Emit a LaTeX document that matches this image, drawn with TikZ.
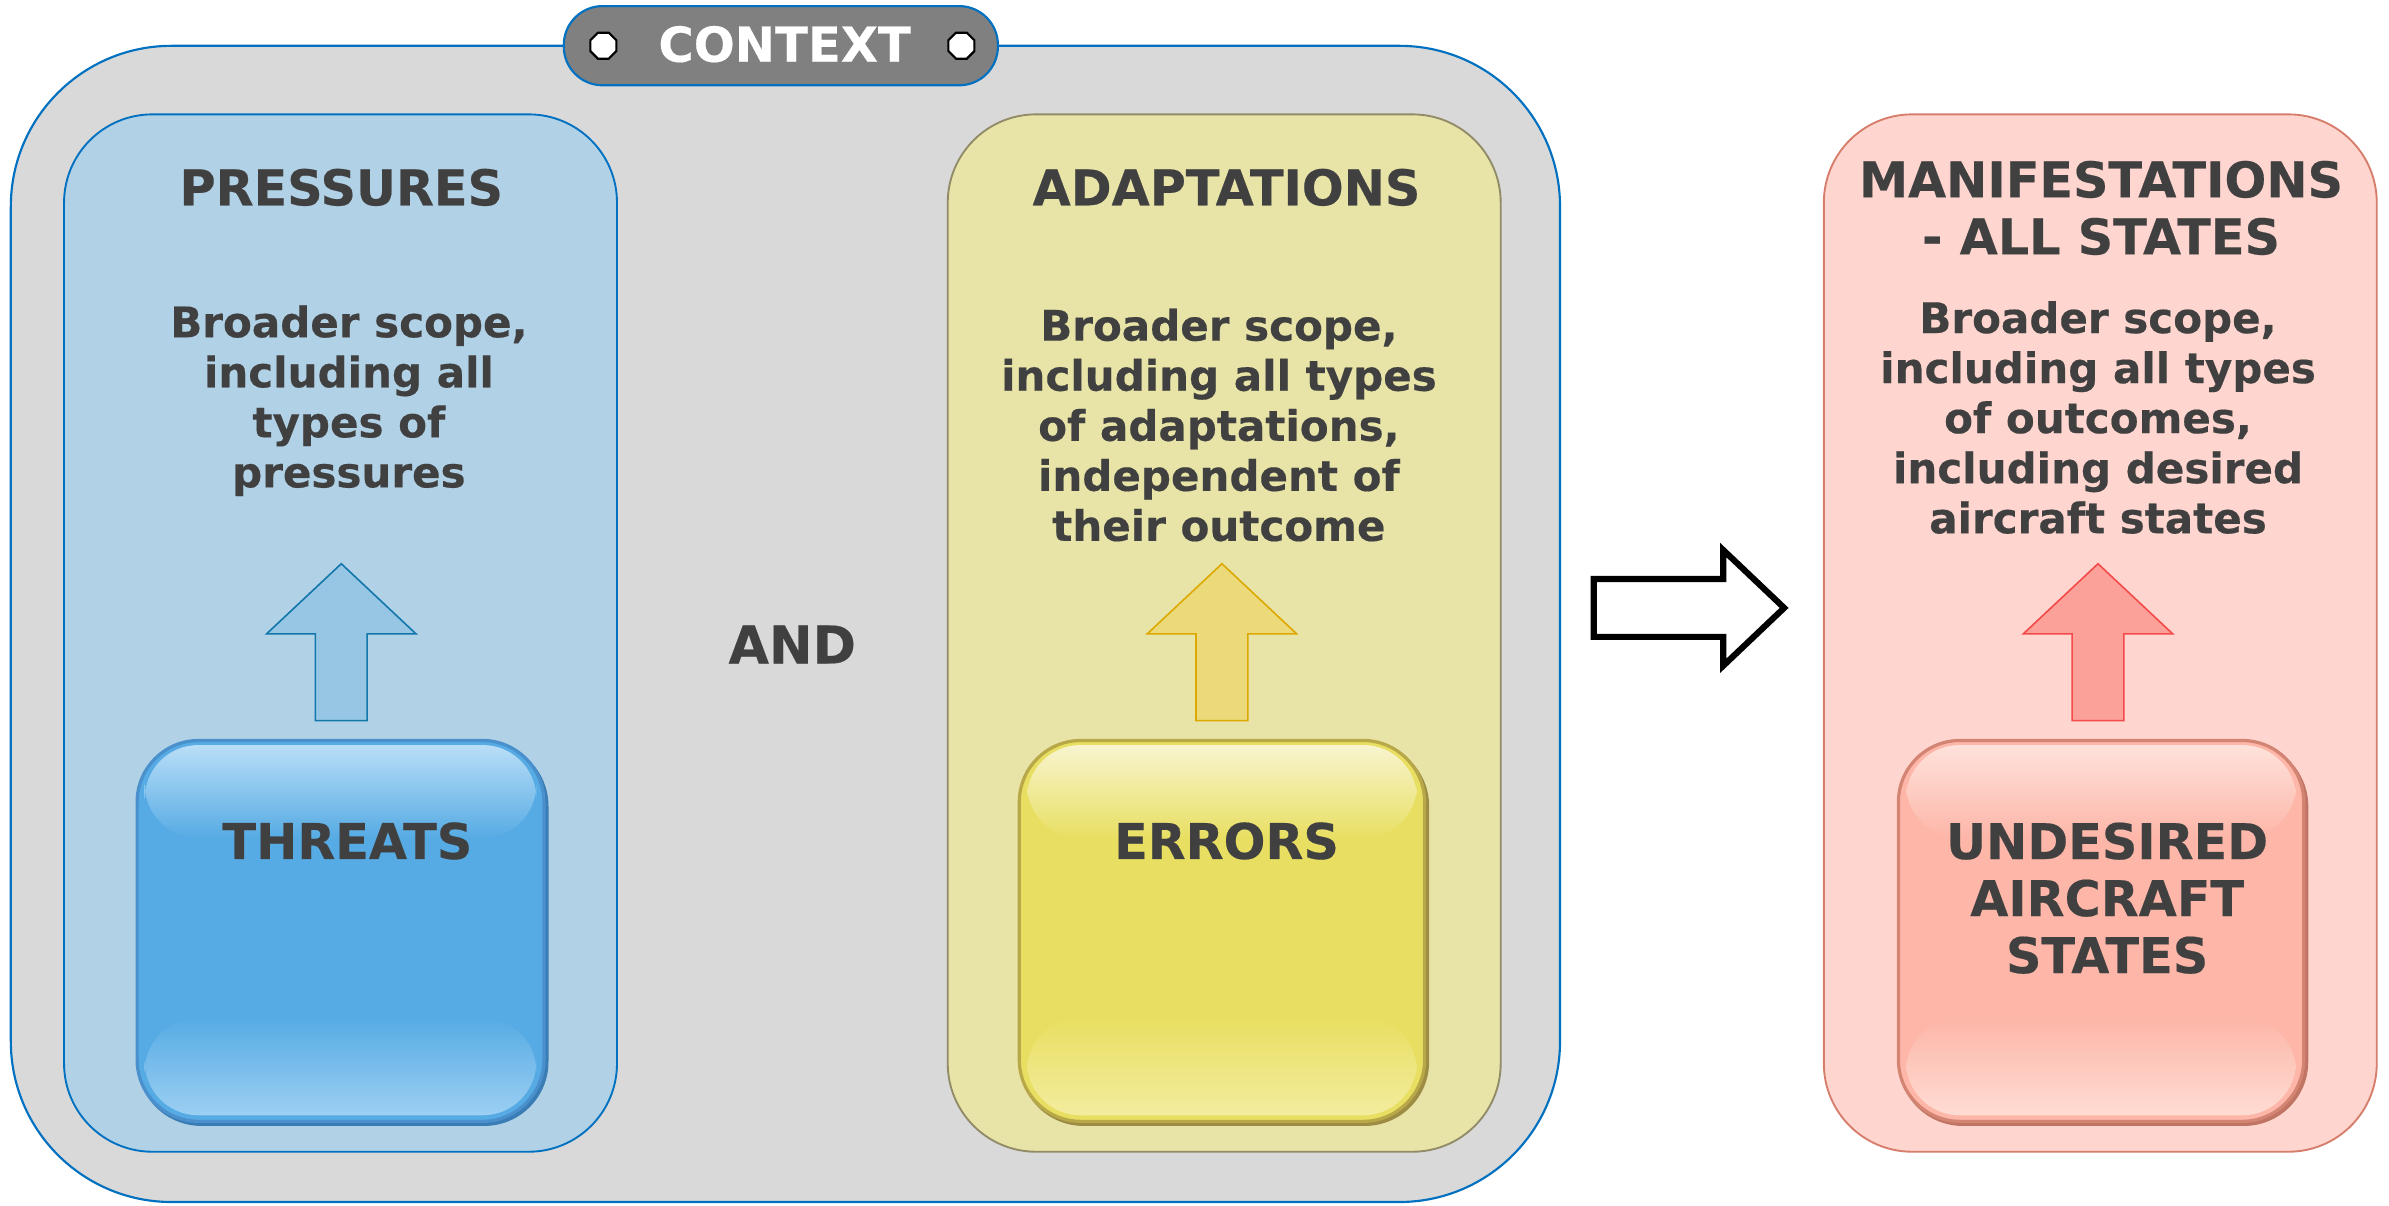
\documentclass[tikz,border=0pt]{standalone}
\usepackage{fontspec}
\setmainfont{DejaVu Sans}[BoldFeatures={FakeBold=0.35}]
\usetikzlibrary{shapes.geometric}
\definecolor{txt}{HTML}{404040}
\definecolor{ctxgrey}{HTML}{D9D9D9}
\definecolor{ctxblue}{HTML}{0070C0}
\definecolor{labgrey}{HTML}{808080}
\definecolor{prfill}{HTML}{B1D1E6}
\definecolor{adfill}{HTML}{E8E4A8}
\definecolor{addraw}{HTML}{918B67}
\definecolor{mnfill}{HTML}{FED6CF}
\definecolor{mndraw}{HTML}{D67D6B}
\definecolor{arbF}{HTML}{97C6E4}
\definecolor{arbD}{HTML}{1277AA}
\definecolor{aryF}{HTML}{ECD97A}
\definecolor{aryD}{HTML}{DDA800}
\definecolor{arrF}{HTML}{FCA19A}
\definecolor{arrD}{HTML}{F34A4A}
\definecolor{thB}{HTML}{56ABE4}
\definecolor{thT}{HTML}{B9DEF7}
\definecolor{thL}{HTML}{9CCFF3}
\definecolor{thE}{HTML}{4A90CC}
\definecolor{thK}{HTML}{3A7CB4}
\definecolor{erB}{HTML}{E8DF62}
\definecolor{erT}{HTML}{F8F4CF}
\definecolor{erL}{HTML}{F3EC9E}
\definecolor{erE}{HTML}{B8A848}
\definecolor{erK}{HTML}{9C8C44}
\definecolor{unB}{HTML}{FDB6A8}
\definecolor{unT}{HTML}{FEE2DB}
\definecolor{unL}{HTML}{FEDCD3}
\definecolor{unE}{HTML}{D38472}
\definecolor{unK}{HTML}{C07464}
% #1 x1, #2 y1, #3 x2, #4 y2, #5 base, #6 top light, #7 bottom light, #8 edge, #9 dark edge
\newcommand\glossbtn[9]{%
  \fill[#9, rounded corners=24pt] (#1,#2+1) rectangle (#3+3,#4+3);
  \filldraw[fill=#5, draw=#8, line width=1.2pt, rounded corners=23pt] (#1,#2) rectangle (#3,#4);
  \shade[top color=#6, bottom color=#5, rounded corners=20pt] (#1+5,#2+3) rectangle (#3-5,#2+64);
  \shade[top color=#5, bottom color=#7, rounded corners=20pt] (#1+5,#4-68) rectangle (#3-5,#4-4);
}
\tikzset{
  panel/.style={rectangle, line width=0.7pt, rounded corners=33pt, minimum width=7.26cm, minimum height=13.62cm, inner sep=0pt},
  head/.style={font=\fontsize{18.4}{21.3}\selectfont\bfseries, text=txt, align=center, inner sep=0pt},
  body/.style={font=\fontsize{15.7}{18.7}\selectfont\bfseries, text=txt, align=center, inner sep=0pt},
  uparrow/.style={line width=0.6pt, line join=miter},
  marker/.style={regular polygon, regular polygon sides=8, minimum size=0.37cm, inner sep=0pt, fill=white, draw=black, line width=0.8pt}
}
\begin{document}
\begin{tikzpicture}[x=0.02cm, y=-0.02cm]
\useasboundingbox (0,0) rectangle (1568,790.9);
% context container
\node[rectangle, draw=ctxblue, fill=ctxgrey, line width=0.8pt, rounded corners=60pt,
      minimum width=20.34cm, minimum height=15.18cm, inner sep=0pt] (ctx) at (515.5,409.5) {};
% panels
\node[panel, draw=ctxblue, fill=prfill] (prp) at (223.5,415.5) {};
\node[panel, draw=addraw, fill=adfill] (adp) at (803.5,415.5) {};
\node[panel, draw=mndraw, fill=mnfill] (mnp) at (1378.5,415.5) {};
% context label
\node[rectangle, draw=ctxblue, fill=labgrey, line width=0.8pt, rounded corners=14.5pt,
      minimum width=5.7cm, minimum height=1.04cm, inner sep=0pt] (lab) at (512.5,30) {};
\node[head, font=\fontsize{18}{21}\selectfont\bfseries, text=white] (labt) at (515,29) {CONTEXT};
\node[marker] (mk1) at (396,30) {};
\node[marker] (mk2) at (631,30) {};
% headings
\node[head] (prh) at (224,123) {PRESSURES};
\node[head] (adh) at (805,123) {ADAPTATIONS};
\node[head] (mnh) at (1379,136.5) {MANIFESTATIONS\\- ALL STATES};
% bodies
\node[body] (prb) at (229,263) {Broader scope,\\including all\\types of\\pressures};
\node[body] (adb) at (800,279) {Broader scope,\\including all types\\of adaptations,\\independent of\\their outcome};
\node[body] (mnb) at (1377,274) {Broader scope,\\including all types\\of outcomes,\\including desired\\aircraft states};
% AND
\node[font=\fontsize{19.5}{22}\selectfont\bfseries, text=txt, inner sep=0pt] (and) at (520,423) {AND};
% up arrows
\draw[uparrow, fill=arbF, draw=arbD] (207,473) -- (207,416) -- (175,416) -- (224,370) -- (273,416) -- (241,416) -- (241,473) -- cycle;
\draw[uparrow, fill=aryF, draw=aryD] (785,473) -- (785,416) -- (753,416) -- (802,370) -- (851,416) -- (819,416) -- (819,473) -- cycle;
\draw[uparrow, fill=arrF, draw=arrD] (1360,473) -- (1360,416) -- (1328,416) -- (1377,370) -- (1426,416) -- (1394,416) -- (1394,473) -- cycle;
% big arrow
\draw[line width=2.3pt, line join=miter, fill=white, draw=black] (1046,380) -- (1131,380) -- (1131,361) -- (1171,399) -- (1131,437) -- (1131,418) -- (1046,418) -- cycle;
% glossy buttons
\glossbtn{90}{486}{357}{736}{thB}{thT}{thL}{thE}{thK}
\glossbtn{669}{486}{935}{736}{erB}{erT}{erL}{erE}{erK}
\glossbtn{1246}{486}{1512}{736}{unB}{unT}{unL}{unE}{unK}
\node[head] (thr) at (228,552) {THREATS};
\node[head] (err) at (805,552) {ERRORS};
\node[head] (und) at (1383,589.5) {UNDESIRED\\AIRCRAFT\\STATES};
\end{tikzpicture}
\end{document}
